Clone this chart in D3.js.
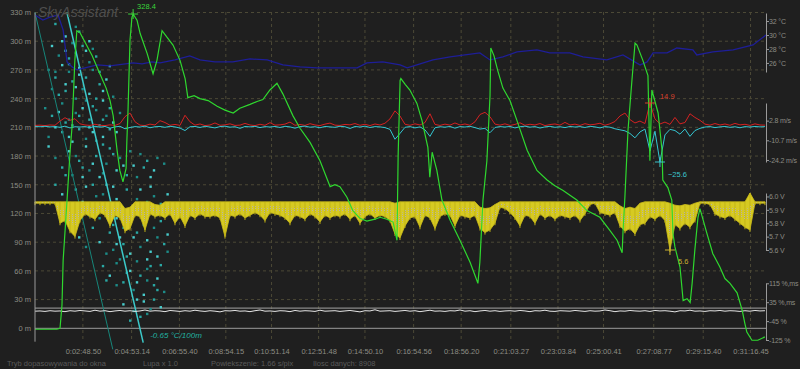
<!DOCTYPE html>
<html>
<head>
<meta charset="utf-8">
<script src="https://cdn.jsdelivr.net/npm/d3@7"></script>
<style>
  html, body { margin: 0; padding: 0; background: #1f1f1f; }
  svg { display: block; font-family: "Liberation Sans", Arial, sans-serif; }
</style>
</head>
<body>
<div id="chart"></div>
<script>
'use strict';

// time axis labels (h:mm:ss.cc)
const tickLabels = ["0:02:48.50", "0:04:53.14", "0:06:55.40", "0:08:54.15", "0:10:51.14",
  "0:12:51.48", "0:14:50.10", "0:16:54.56", "0:18:56.20", "0:21:03.27", "0:23:03.84",
  "0:25:00.41", "0:27:08.77", "0:29:15.40", "0:31:16.45"];

const altTicks = [0, 30, 60, 90, 120, 150, 180, 210, 240, 270, 300, 330];
const tempTicks = [32, 30, 28, 26];
const speedTicks = [2.8, -10.7, -24.2];
const voltTicks = [6.0, 5.9, 5.8, 5.7, 5.6];
const pctTicks = [115, 35, -45, -125];
const pctLabels = ["115 %,ms", "35 %,ms", "-45 %", "-125 %"];
const pctRefLevels = [10];

const statusTexts = ["Tryb dopasowywania do okna", "Lupa x 1.0", "Powiekszenie: 1.66 s/pix", "Ilosc danych: 8908"];

// altitude [s, m]
const altitude = [[46,-1],[84,-1],[102,-1],[110,0],[115,24],[118,71],[128,134],[136,186],[141,212],
  [148,280],[153,311],[161,309],[174,299],[192,285],[212,266],[228,251],[238,238],[246,222],[256,186],
  [263,165],[271,153],[279,167],[281,196],[284,228],[289,301],[294,325],[297,328.4],[307,322],[315,308],
  [333,287],[348,266],[358,280],[371,311],[384,304],[399,296],[417,280],[430,261],[437,241],[453,243],
  [468,240],[489,238],[512,232],[532,228],[553,225],[570,230],[596,234],[614,237],[629,239],[647,249],
  [665,256],[680,245],[706,222],[724,209],[750,194],[775,175],[801,148],[813,150],[826,148],[844,137],
  [859,123],[877,115],[895,112],[916,114],[929,116],[946,114],[962,111],[972,92],[975,181],[980,259],
  [982,261],[993,255],[1005,249],[1023,235],[1036,217],[1051,189],[1056,158],[1062,184],[1074,165],
  [1087,134],[1108,113],[1133,92],[1159,69],[1179,47],[1184,69],[1192,134],[1202,175],[1210,243],
  [1212,293],[1220,285],[1230,269],[1243,251],[1261,238],[1279,217],[1305,186],[1330,165],[1356,155],
  [1376,149],[1397,144],[1432,134],[1458,123],[1491,116],[1517,102],[1535,92],[1548,79],[1550,99],
  [1555,137],[1563,207],[1573,259],[1581,298],[1586,296],[1601,280],[1614,264],[1619,175],[1624,249],
  [1640,225],[1650,186],[1652,155],[1665,147],[1675,134],[1678,99],[1683,85],[1696,64],[1704,29],
  [1714,31],[1722,27],[1727,47],[1734,82],[1742,116],[1747,125],[1765,99],[1780,78],[1798,64],
  [1811,52],[1824,47],[1842,37],[1855,19],[1862,5],[1867,-4],[1880,-12.5],[1895,-12.5],[1913,-9]];

// temperature [s, °C]
const temperature = [[46,32.86],[66,32.14],[84,32.57],[105,32.86],[118,30.71],[128,26.14],[141,25.43],
  [153,25.0],[174,25.29],[205,25.71],[238,25.57],[297,26.0],[320,25.86],[345,26.14],[366,26.0],
  [404,26.43],[442,27.0],[468,26.43],[506,26.14],[552,26.14],[596,26.57],[640,26.43],[680,25.71],
  [724,25.43],[767,25.29],[826,25.29],[870,25.29],[895,26.0],[936,26.14],[980,25.71],[998,25.29],
  [1023,25.71],[1064,26.43],[1108,26.86],[1146,27.14],[1184,27.43],[1210,26.43],[1243,26.86],
  [1279,27.57],[1330,27.86],[1363,27.43],[1414,27.43],[1448,26.86],[1509,26.43],[1550,27.14],
  [1576,26.29],[1594,25.71],[1612,26.14],[1627,27.43],[1663,27.43],[1688,28.14],[1729,27.86],
  [1739,27.14],[1780,27.57],[1832,27.86],[1883,28.57],[1916,30.0]];

// evenly sampled series
const gridStart = 46, gridStep = 12.79;

// climb rate m/s
const climb = [-0.5,-0.3,-0.6,-0.2,-0.4, 2.5,4.8,3.0,4.1,0.6, -0.2,-0.5,0.3,-0.4,-0.6, -0.1,-0.5,0.8,
  5.5,8.0,2.0, -0.3,-0.6,0.4,-0.2, 2.8,1.5, -0.4,0.2,-0.5, 6.5,2.0,
  -0.3,0.5,-0.6,-0.2,1.2,-0.4,-0.1,0.6,-0.5,-0.3,0.9,-0.2,-0.6,0.3,-0.4,1.4,-0.3,-0.1,0.4, 1.8,
  -0.4,0.2,-0.5,0.7,-0.2,-0.6,0.4,1.1,-0.3,-0.5,0.2,-0.1,0.8,-0.4,0.3,-0.6,0.5,-0.2,1.0,
  4.0,9.5,6.0, 0.3,-0.4,0.6,-0.2,1.5, 7.5, 0.2,-0.5,0.4,-0.3,1.2,-0.2,0.5,-0.4,2.0, 7.0,8.5,5.5,
  0.4,-0.3,0.6,-0.5,0.2,1.3,-0.4,0.3,-0.2,0.8,-0.6,0.1,0.5,-0.3,1.6,-0.2,0.4,-0.5,0.7,-0.1,0.3,1.0,-0.4,0.6,2.2,
  6.0,8.0,3.5, 1.2,2.5,0.8, 14.9, 4.0, 0.5,1.8,0.2, 5.0, 0.6,1.5, 7.5,5.0,3.0,
  0.4,-0.3,0.8,-0.2,0.5,-0.4,0.9,-0.1,0.3,-0.5,0.6,-0.2,-0.3];

// sink rate m/s
const sink = [-1.2,-1.4,-1.1,-1.5,-1.3,-1.8,-1.0,-2.2,-1.4,-1.6,
  -1.3,-2.0,-1.1,-1.7,-1.2,-2.4,-1.5,-1.1,-2.8,-1.9,
  -1.3,-1.6,-1.0,-2.1,-1.4,-1.2,-1.8,-1.1,-1.5,-2.3,
  -4.0,-1.4,-1.2,-1.9,-1.1,-1.6,-2.2,-1.3,-1.0,-1.7,
  -1.4,-2.5,-1.2,-1.5,-1.1,-2.0,-1.3,-1.6,-1.2,-1.9,
  -1.1,-1.5,-2.4,-1.3,-1.0,-1.7,-1.4,-2.1,-1.2,-1.5,
  -1.8,-1.1,-1.4,-2.6,-1.2,-1.6,-1.0,-1.9,-1.3,-1.5,
  -2.0,-3.2,-10.0,-6.0,-1.8,-1.3,-2.2,-1.5,-3.5,-8.0,
  -2.1,-1.4,-1.7,-1.2,-2.4,-1.3,-1.6,-1.1,-2.0,-3.0,
  -2.5,-5.5,-1.9,-1.3,-1.6,-1.2,-2.2,-1.4,-1.0,-1.7,
  -1.3,-2.3,-1.5,-1.1,-1.8,-1.4,-2.0,-1.2,-1.6,-1.3,
  -1.9,-1.1,-1.5,-2.2,-1.3,-1.7,-2.8,-3.5,-4.2,-6.0,
  -9.0,-5.0,-3.0,-18.0,-4.5,-25.6,-7.0,-3.2,-4.0,-6.5,
  -3.0,-8.0,-4.0,-2.5,-1.6,-1.3,-2.0,-1.5,-1.2,-1.8,
  -1.4,-2.1,-1.3,-1.6,-1.2,-1.5,-1.3];

// receiver voltage, per-sample max and min
const voltMax = [5.96,5.96,5.96,5.96,5.96,5.96,5.96,5.96,5.96,5.96,5.96,5.96,5.96,5.96,5.96,5.96,5.96,5.96,
  5.91,5.92, 5.96,5.96,5.96,5.96, 5.94,5.935,
  5.96,5.96,5.96,5.96,5.96,5.96,5.96,5.96,5.96,5.96,5.96,5.96,5.96,5.96,5.96,5.96,5.96,5.96,5.96,5.96,
  5.96,5.96,5.96,5.96,5.96,5.96,5.96,5.96,5.96,5.96,5.96,5.96,5.96,5.96,5.96,5.96,5.96,5.96,5.96,5.96,
  5.96,5.96,5.96,5.96,5.96,5.96,
  5.95,5.96, 5.96,5.96,5.96,5.96,5.96,5.96,5.96,5.96,5.96,5.96,5.96,5.96,5.96,5.96,5.96,
  5.92,5.91,5.915,5.94,
  5.96,5.96,5.96,5.96,5.96,5.96,5.96,5.96,5.96,5.96,5.96,5.96,5.96,5.96,5.96,5.96,5.96,5.96,5.96,5.96,
  5.96,5.96,5.96,5.96,
  5.93,5.91,5.92,5.91,5.95,5.96, 5.96,5.96,5.96,5.96, 5.95,5.935,5.93,5.94,5.935,5.95,
  5.96,5.96,5.96,5.96,5.96,5.96,5.96,5.96,5.96,5.96, 6.026, 5.96,5.96,5.96];

const voltMin = [5.95,5.95,5.95,5.95,5.95, 5.80,5.82,5.74,5.70,5.82,
  5.87,5.85,5.83,5.88,5.86,5.78,5.86,5.84, 5.74,5.76, 5.86,5.85,5.75,5.87,5.85,
  5.86,5.84,5.87,5.80,5.85,5.78,5.86,5.84,5.87,5.85, 5.85,5.86,5.84,5.70,5.86,5.85,5.87,5.84,5.86,
  5.88,5.86,5.82,5.88,5.87, 5.86,5.84,5.80,5.86,5.85,5.83,5.87,5.85,5.81,5.86,5.84,5.86,
  5.85,5.87,5.83,5.86,5.80,5.85,5.87,5.84,5.86,5.85,5.82, 5.72,5.69,5.78,
  5.84,5.85,5.77,5.86,5.84,5.76,5.85,5.87,5.86,5.78,5.86,5.85,5.84,5.86,
  5.76,5.73,5.75,5.80, 5.92,5.91,5.88, 5.84,5.78,5.86,5.85,5.80,5.87,5.84,5.86,5.83,5.86,5.85,
  5.84,5.86,5.82,5.87,5.94,5.95, 5.88,5.87,5.86,5.88, 5.78,5.74,5.76,5.72,5.79,5.80,
  5.85,5.83,5.86,5.82, 5.60, 5.79,5.76,5.80,5.77,5.82, 5.95,5.95,5.94,
  5.87,5.85,5.84,5.86,5.83,5.80,5.77, 5.75, 5.95,5.95,5.95];

// servo / signal %
const signal = [-3,-2,-4,-1,-3,-2,-5,-1,-3,0, -2,-4,1,-3,-1,-5,-2,0,-3,-1,
  -4,-2,2,-3,-1,-2,-5,0,-2,-4, -1,-3,1,-2,-4,-1,-3,-6,-1,-2,
  0,-3,-2,-5,-1,2,-3,-2,-4,-1, -2,-5,0,-3,-1,-2,-4,1,-3,-2,
  -1,-4,-2,0,-3,-6,-1,-2,3,-3, -2,-1,-4,-2,0,-3,-1,-5,-2,1,
  -3,-2,-4,-1,-2,2,-3,-1,-5,-2, 0,-3,-1,-4,-2,-1,-3,0,-2,-5,
  -1,-2,1,-3,-4,-1,-2,-3,0,-2, -4,-1,-3,-2,2,-1,-5,-2,-3,0,
  -2,-3,-1,-4,0,-2,-1,-3,-6,-1, -2,1,-3,-2,-4,-1,-2,0,-3,-1,
  -2,-4,-1,-3,0,-2,-1];

// temperature vs altitude samples [°C, m]
const cloud = [[27.6,318],[27.9,305],[28.1,298],[28.3,310],[28.5,290],[27.7,285],[28.0,282],[28.6,300],
  [28.2,288],[28.8,284],[27.5,295],[27.4,270],[27.6,262],[27.8,275],[28.0,268],[28.1,258],[28.3,272],
  [28.4,250],[28.5,262],[28.6,245],[28.7,270],[28.9,255],[29.0,248],[27.5,250],[27.7,244],[27.9,255],
  [28.2,240],[28.8,240],[29.1,260],[27.3,230],[27.5,222],[27.6,210],[27.8,235],[27.9,215],[28.0,200],
  [28.2,225],[28.3,208],[28.4,230],[28.5,198],[28.6,218],[28.7,205],[28.8,228],[28.9,212],[29.0,200],
  [29.1,222],[29.2,208],[29.3,215],[27.4,200],[28.1,212],[27.4,190],[27.6,178],[27.8,168],[28.0,185],
  [28.1,160],[28.3,175],[28.5,190],[28.6,165],[28.8,180],[28.9,158],[29.1,172],[29.2,188],[29.4,165],
  [29.5,178],[29.7,160],[29.9,170],[30.1,182],[30.3,175],[30.5,165],[30.6,178],[29.0,192],[28.4,158],
  [30.0,158],[27.6,150],[27.8,140],[28.0,125],[28.2,145],[28.4,132],[28.6,118],[28.7,150],[28.9,128],
  [29.0,140],[29.2,118],[29.3,148],[29.5,130],[29.7,145],[29.8,120],[30.0,135],[30.2,125],[30.4,148],
  [30.5,138],[30.7,130],[29.4,115],[28.3,118],[28.1,108],[28.3,95],[28.5,85],[28.7,105],[28.9,90],
  [29.1,78],[29.2,100],[29.4,88],[29.6,105],[29.7,75],[29.9,95],[30.1,85],[30.2,108],[30.4,80],
  [30.6,95],[30.8,88],[30.3,72],[29.5,72],[29.0,65],[29.2,55],[29.4,68],[29.6,48],[29.8,60],[29.9,40],
  [30.1,55],[30.2,35],[30.3,62],[30.5,45],[30.6,52],[30.8,38],[30.7,66],[29.6,25],[29.9,18],[30.1,12],
  [30.2,28],[30.4,20],[29.8,8],
  [27.8,300],[28.2,315],[28.4,295],[27.9,290],[28.7,292],[28.0,276],[28.3,265],[28.6,278],[28.9,268],
  [29.2,274],[27.6,268],[27.9,248],[28.2,252],[28.5,238],[28.7,232],[29.0,238],[29.3,242],[29.2,230],
  [27.7,226],[28.0,218],[28.3,222],[28.6,210],[28.8,196],[29.0,218],[29.4,205],[29.5,225],[27.8,205],
  [28.1,195],[28.2,180],[28.4,168],[28.7,172],[29.0,162],[29.3,182],[29.6,170],[29.8,185],[30.2,168],
  [30.4,158],[30.8,172],[27.9,160],[28.5,148],[28.8,138],[29.1,150],[29.4,135],[29.6,122],[29.9,128],
  [30.1,145],[30.3,132],[30.6,120],[30.9,140],[28.9,115],[29.3,108],[29.5,95],[29.8,110],[30.0,100],
  [30.3,92],[30.5,105],[30.7,112],[30.9,98],[29.3,82],[29.6,88],[29.8,78],[30.0,70],[30.4,65],
  [30.6,75],[30.9,80],[29.7,58],[30.0,48],[30.3,50],[30.6,40],[30.0,30],[30.3,15],[30.5,30],[30.7,22],
  [29.4,45],[29.1,50]];

// lapse-rate reference lines
const gradRate = -0.65;            // °C per 100 m
const gradTopAlt = 330;
const gradTopTemps = [27.0, 27.94];
const gradBottomAlts = [-22, -15];

// ---------------------------------------------------------------
const width = 800, height = 369;

const parseTime = s => {
  const [h, m, sec] = s.split(":");
  return +h * 3600 + +m * 60 + +sec;
};
const tickSecs = tickLabels.map(parseTime);

const x = d3.scaleLinear().domain([46, 1916]).range([35, 766]);
const xGrid = (d, i) => x(gridStart + i * gridStep);
const yAlt = d3.scaleLinear().domain([0, 330]).range([328.3, 12.5]);
const yTemp = d3.scaleLinear().domain([24.7, 33.15]).range([72, 13]);
const ySpeed = d3.scaleLinear().domain([-25.6, 14.9]).range([162, 103]);
const yVolt = d3.scaleLinear().domain([5.6, 6.026]).range([250, 193]);
const yPct = d3.scaleLinear().domain([-125, 115]).range([340, 283.3]);
const xCloud = d3.scaleLinear().domain([27, 31]).range([35, 171]);

const labelColor = "#8c8c84";
const axisColor = "#9a9a9a";

const svg = d3.select("#chart")
  .append("svg")
    .attr("width", width)
    .attr("height", height);

svg.append("rect").attr("width", width).attr("height", height).attr("fill", "#1f1f1f");

const defs = svg.append("defs");
defs.append("pattern")
    .attr("id", "dots")
    .attr("width", 3).attr("height", 2)
    .attr("patternUnits", "userSpaceOnUse")
  .append("rect")
    .attr("width", 1).attr("height", 1)
    .attr("fill", "#b8b4a4");

// grid
const grid = svg.append("g").attr("stroke", "#4c4936").attr("stroke-dasharray", "3,3");
grid.selectAll("line.h").data(altTicks.filter(d => d > 0)).join("line")
    .attr("class", "h")
    .attr("x1", 35).attr("x2", 766)
    .attr("y1", d => yAlt(d)).attr("y2", d => yAlt(d));
grid.selectAll("line.v").data(tickSecs).join("line")
    .attr("class", "v")
    .attr("x1", d => x(d)).attr("x2", d => x(d))
    .attr("y1", 12).attr("y2", 341);

// reference lines: altitude zero and signal level
svg.append("line")
    .attr("x1", 35).attr("x2", 766)
    .attr("y1", yAlt(0)).attr("y2", yAlt(0))
    .attr("stroke", "#9c9c9c");
svg.selectAll("line.ref").data(pctRefLevels).join("line")
    .attr("class", "ref")
    .attr("x1", 35).attr("x2", 766)
    .attr("y1", d => yPct(d)).attr("y2", d => yPct(d))
    .attr("stroke", "#a4a4a4");

// lapse-rate cloud
const cloudColors = ["#2aa8a4", "#48cccc", "#1d8c88"];
svg.append("g").selectAll("rect").data(cloud).join("rect")
    .attr("x", d => xCloud(d[0]) - 1.2)
    .attr("y", d => yAlt(d[1]) - 1.2)
    .attr("width", 2.4).attr("height", 2.4)
    .attr("fill", (d, i) => cloudColors[i % 3]);

const gradColors = ["#17867a", "#3ccaca"];
const gradWidths = [1, 1.5];
gradTopTemps.forEach((t0, i) => {
  const t1 = t0 - gradRate / 100 * (gradTopAlt - gradBottomAlts[i]);
  svg.append("line")
      .attr("x1", xCloud(t0)).attr("y1", yAlt(gradTopAlt))
      .attr("x2", xCloud(t1)).attr("y2", yAlt(gradBottomAlts[i]))
      .attr("stroke", gradColors[i])
      .attr("stroke-width", gradWidths[i]);
  if (i === 1) {
    svg.append("text")
        .attr("x", xCloud(t1) + 7).attr("y", yAlt(gradBottomAlts[i]) - 5)
        .attr("fill", "#22b2a2")
        .attr("font-size", "8px")
        .attr("font-style", "italic")
        .text(`${gradRate} °C/100m`);
  }
});

// temperature
svg.append("path")
    .datum(temperature)
    .attr("d", d3.line().x(d => x(d[0])).y(d => yTemp(d[1])))
    .attr("fill", "none")
    .attr("stroke", "#1e1e98")
    .attr("stroke-width", 1.3);

// voltage band
svg.append("path")
    .datum(voltMin)
    .attr("d", d3.area().x(xGrid).y0(d => yVolt(d)).y1((d, i) => yVolt(voltMax[i])))
    .attr("fill", "#d6ca22")
    .attr("stroke", "#cbbd18")
    .attr("stroke-width", 0.8);
svg.append("g").selectAll("line").data(voltMin).join("line")
    .attr("x1", xGrid).attr("x2", xGrid)
    .attr("y1", (d, i) => yVolt(voltMax[i]))
    .attr("y2", d => yVolt(d) + 2)
    .attr("stroke", "#c2b416")
    .attr("stroke-width", 1);
svg.append("path")
    .datum(voltMin)
    .attr("d", d3.area().x(xGrid)
      .y0((d, i) => yVolt(d + 0.3 * (voltMax[i] - d)))
      .y1((d, i) => yVolt(voltMax[i] - 0.35 * (voltMax[i] - d))))
    .attr("fill", "url(#dots)");

// signal
svg.append("path")
    .datum(signal)
    .attr("d", d3.line().x(xGrid).y(d => yPct(d)))
    .attr("fill", "none")
    .attr("stroke", "#e6e6e6")
    .attr("stroke-width", 1);

// climb / sink
svg.append("path")
    .datum(climb)
    .attr("d", d3.line().x(xGrid).y(d => ySpeed(d)))
    .attr("fill", "none")
    .attr("stroke", "#d42222")
    .attr("stroke-width", 1);
svg.append("path")
    .datum(sink)
    .attr("d", d3.line().x(xGrid).y(d => ySpeed(d)))
    .attr("fill", "none")
    .attr("stroke", "#34c6d2")
    .attr("stroke-width", 1);

// altitude
svg.append("path")
    .datum(altitude)
    .attr("d", d3.line().x(d => x(d[0])).y(d => yAlt(d[1])))
    .attr("fill", "none")
    .attr("stroke", "#2fd82f")
    .attr("stroke-width", 1.2);

// extreme markers
const fmt = d3.format(".1f");
function marker(px, py, color, label, dx, dy) {
  svg.append("path")
      .attr("d", `M${px - 5},${py}H${px + 5}M${px},${py - 5}V${py + 5}`)
      .attr("stroke", color)
      .attr("stroke-width", 1);
  svg.append("text")
      .attr("x", px + dx).attr("y", py + dy)
      .attr("fill", color)
      .attr("font-size", "7.5px")
      .text(label);
}
const iAltMax = d3.maxIndex(altitude, d => d[1]);
marker(x(altitude[iAltMax][0]), yAlt(altitude[iAltMax][1]), "#3ad43a", fmt(altitude[iAltMax][1]), 4, -5);
const iClimbMax = d3.maxIndex(climb);
marker(xGrid(null, iClimbMax), ySpeed(climb[iClimbMax]), "#d8402c", fmt(climb[iClimbMax]), 10, -4);
const iSinkMin = d3.minIndex(sink);
marker(xGrid(null, iSinkMin), ySpeed(sink[iSinkMin]), "#3cc4cc", fmt(sink[iSinkMin]), 8, 15);
const iVoltMin = d3.minIndex(voltMin);
marker(xGrid(null, iVoltMin), yVolt(voltMin[iVoltMin]), "#c8b030", fmt(voltMin[iVoltMin]), 8, 14);

// axes
function styleAxis(g, size) {
  g.selectAll("path.domain").attr("stroke", axisColor);
  g.selectAll(".tick line").attr("stroke", axisColor);
  g.selectAll(".tick text").attr("fill", labelColor).attr("font-size", size)
    .attr("font-family", "'Liberation Sans', Arial, sans-serif");
}

const leftAxis = svg.append("g")
    .attr("transform", "translate(35,0)")
    .call(d3.axisLeft(yAlt).tickValues(altTicks).tickSize(0).tickPadding(4).tickFormat(d => `${d} m`));
leftAxis.select("path.domain").remove();
styleAxis(leftAxis, "7.5px");
svg.append("line")
    .attr("x1", 35).attr("x2", 35)
    .attr("y1", yAlt(330)).attr("y2", yAlt(-14))
    .attr("stroke", axisColor);

const bottomAxis = svg.append("g")
    .attr("transform", "translate(0,346)")
    .call(d3.axisBottom(x).tickValues(tickSecs).tickSize(0).tickPadding(3)
      .tickFormat((d, i) => tickLabels[i]));
bottomAxis.select("path.domain").remove();
styleAxis(bottomAxis, "7.5px");

const rightAxes = [
  [yTemp, tempTicks, d => `${d} °C`],
  [ySpeed, speedTicks, d => `${d} m/s`],
  [yVolt, voltTicks, d => `${d.toFixed(1)} V`],
  [yPct, pctTicks, (d, i) => pctLabels[i]],
];
rightAxes.forEach(([scale, ticks, format]) => {
  const g = svg.append("g")
      .attr("transform", "translate(766,0)")
      .call(d3.axisRight(scale).tickValues(ticks).tickSize(3).tickSizeOuter(0).tickPadding(0).tickFormat(format));
  styleAxis(g, "7px");
  g.selectAll(".tick text").attr("letter-spacing", "-0.15px");
});

// title and status bar
svg.append("text")
    .attr("x", 38).attr("y", 17)
    .attr("fill", "#4e4e4e")
    .attr("font-size", "14px")
    .attr("font-style", "italic")
    .text("SkyAssistant");

const statusX = [7, 143, 211, 313];
svg.selectAll("text.status").data(statusTexts).join("text")
    .attr("class", "status")
    .attr("x", (d, i) => statusX[i]).attr("y", 366)
    .attr("fill", "#5a5a5a")
    .attr("font-size", "7.5px")
    .text(d => d);
</script>
</body>
</html>
